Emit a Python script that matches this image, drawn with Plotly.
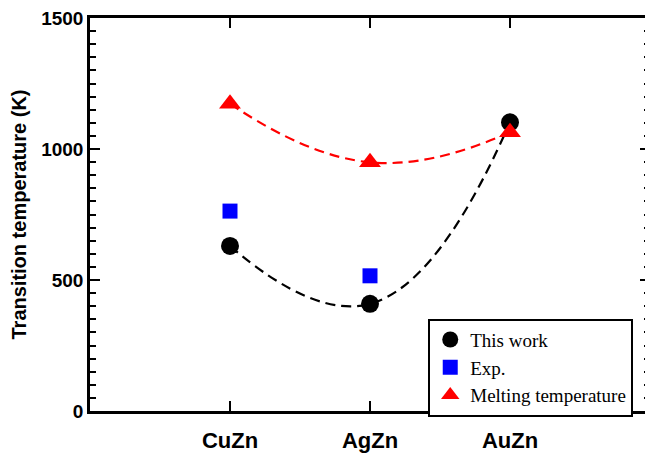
import plotly.graph_objects as go

categories = ["CuZn", "AgZn", "AuZn"]
this_work = [630, 409, 1102]
exp_cats = ["CuZn", "AgZn"]
exp_vals = [763, 516]
melting = [1173, 949, 1064]
y_ticks = [0, 500, 1000, 1500]

SANS = "Liberation Sans, Arial, sans-serif"
SERIF = "Liberation Serif, Times New Roman, serif"

fig = go.Figure()

# dashed fitted curves
fig.add_trace(go.Scatter(x=categories, y=melting, mode="lines",
                         line=dict(color="#ff0000", width=2.2, dash="10px,6px", shape="spline", smoothing=1.3),
                         showlegend=False, hoverinfo="skip"))
fig.add_trace(go.Scatter(x=categories, y=this_work, mode="lines",
                         line=dict(color="black", width=2.2, dash="10px,6px", shape="spline", smoothing=1.3),
                         showlegend=False, hoverinfo="skip"))

fig.add_trace(go.Scatter(x=categories, y=this_work, mode="markers", name="This work",
                         marker=dict(symbol="circle", size=18, color="black")))
fig.add_trace(go.Scatter(x=exp_cats, y=exp_vals, mode="markers", name="Exp.",
                         marker=dict(symbol="square", size=15, color="#0000ff")))
fig.add_trace(go.Scatter(x=categories, y=melting, mode="markers", name="Melting temperature",
                         marker=dict(symbol="triangle-up", size=19, color="#ff0000")))

fig.update_layout(
    width=645, height=449,
    margin=dict(l=82, r=0, t=8, b=46),
    paper_bgcolor="white", plot_bgcolor="white",
    font=dict(family=SANS, color="black"),
    legend=dict(x=0.604, y=0.235, xanchor="left", yanchor="top",
                bgcolor="white", bordercolor="black", borderwidth=2,
                font=dict(family=SERIF, size=19, color="black"),
                tracegroupgap=0, itemsizing="trace", itemwidth=30),
    xaxis=dict(type="category", categoryorder="array", categoryarray=categories,
               range=[-1, 3], showgrid=False, zeroline=False,
               showline=True, linecolor="black", linewidth=2.5, mirror="ticks",
               ticks="inside", ticklen=10, tickwidth=2, tickcolor="black",
               ticklabelstandoff=8,
               tickfont=dict(size=22, family=SANS, weight="bold")),
    yaxis=dict(range=[0, 1500], tickvals=y_ticks, showgrid=False, zeroline=False,
               showline=True, linecolor="black", linewidth=2.5, mirror="ticks",
               ticks="inside", ticklen=10, tickwidth=2, tickcolor="black",
               ticklabeloverflow="allow",
               minor=dict(dtick=50, ticks="inside", ticklen=6, tickwidth=2, tickcolor="black"),
               tickfont=dict(size=19, family=SANS, weight="bold"),
               title=dict(text="Transition temperature (K)", standoff=10,
                          font=dict(size=20, family=SANS, weight="bold"))),
)

fig.write_html("out.html")
